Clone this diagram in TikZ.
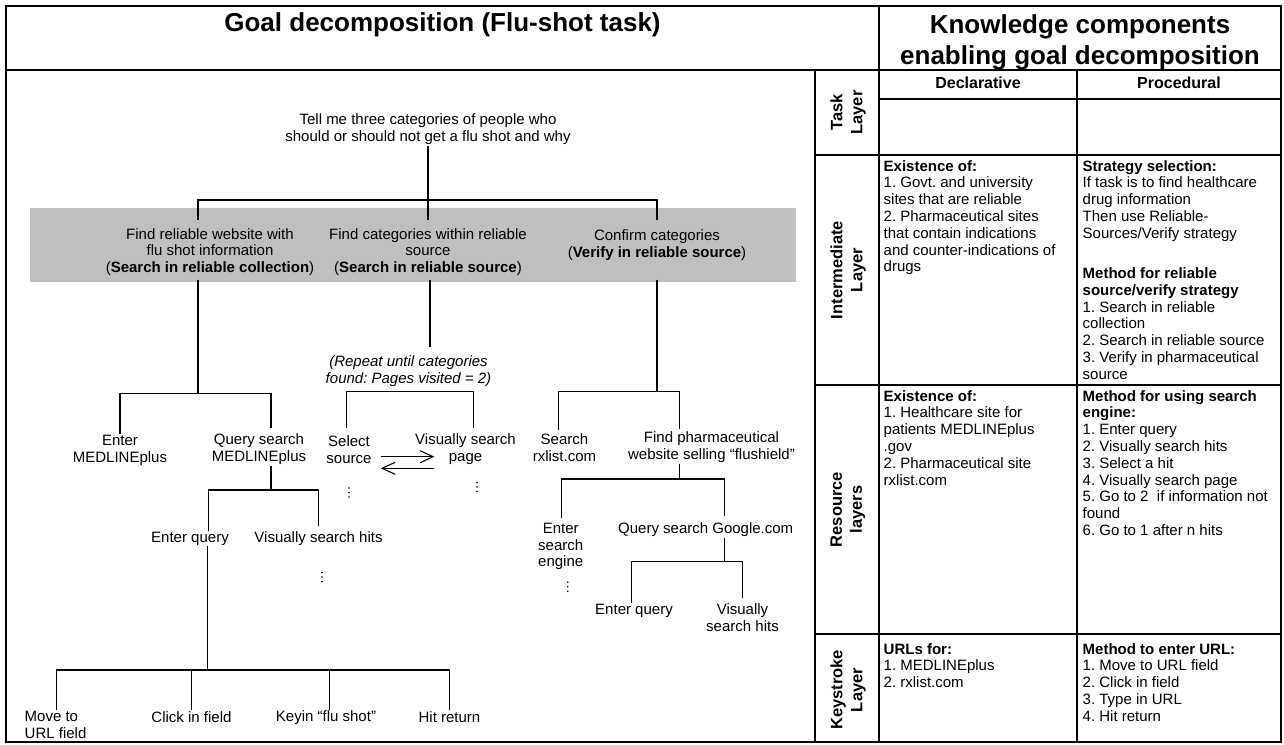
\documentclass[tikz,border=0pt]{standalone}
\usepackage{fontspec}
\setmainfont{Liberation Sans}
\usetikzlibrary{arrows.meta}
\definecolor{band}{RGB}{191,191,191}
\frenchspacing
\begin{document}
\begin{tikzpicture}[x=1pt,y=-1pt,
  conn/.style={line width=1.5pt},
  grid/.style={line width=1.2pt},
  txt/.style={font=\fontsize{15}{16.8}\selectfont, align=center, inner sep=1pt},
  itxt/.style={font=\itshape\fontsize{15}{16.8}\selectfont, align=center, inner sep=1pt},
  cell/.style={font=\fontsize{15}{16.8}\selectfont, align=left, inner sep=0pt, anchor=north west},
  lab/.style={rotate=90, align=center, font=\bfseries\fontsize{16.5}{20}\selectfont, inner sep=0pt},
  head/.style={font=\bfseries\fontsize{26}{31}\selectfont, align=center, inner sep=0pt},
  colh/.style={font=\bfseries\fontsize{16}{19}\selectfont, inner sep=0pt},
  arr/.style={line width=1.1pt, -{Straight Barb[length=13pt,width=12pt]}}]
\useasboundingbox (0,0) rectangle (1284,744);
\fill[band] (30,208) rectangle (796,282);

% ---------- table frame ----------
\draw[grid] (6,6) rectangle (1281,742);
\draw[grid] (6,70) -- (1281,70);
\draw[grid] (879,6) -- (879,742);
\draw[grid] (815,70) -- (815,742);
\draw[grid] (1077,70) -- (1077,742);
\draw[grid] (879,99) -- (1281,99);
\draw[grid] (815,155) -- (1281,155);
\draw[grid] (815,385) -- (1281,385);
\draw[grid] (815,634) -- (1281,634);

% ---------- headers ----------
\node[head] (h1) at (442.5,25) {Goal decomposition (Flu-shot task)};
\node[head] (h2) at (1080,42) {Knowledge components\\enabling goal decomposition};
\node[colh] (hd) at (978,83) {Declarative};
\node[colh] (hp) at (1179,83) {Procedural};

\node[lab] (lt) at (848,112.5) {Task\\Layer};
\node[lab] (li) at (848,270) {Intermediate\\Layer};
\node[lab] (lr) at (848,509.5) {Resource\\layers};
\node[lab] (lk) at (848,690) {Keystroke\\Layer};

\node[cell] (idecl) at (883.5,160) {\textbf{Existence of:}\\1. Govt. and university\\sites that are reliable\\2. Pharmaceutical sites\\that contain indications\\and counter-indications of\\drugs};
\node[cell] (iproc) at (1082.5,160) {\textbf{Strategy selection:}\\If task is to find healthcare\\drug information\\Then use Reliable-\\Sources/Verify strategy\\[23.5pt]\textbf{Method for reliable}\\\textbf{source/verify strategy}\\1. Search in reliable\\collection\\2. Search in reliable source\\3. Verify in pharmaceutical\\source};
\node[cell] (rdecl) at (883.5,390) {\textbf{Existence of:}\\1. Healthcare site for\\patients MEDLINEplus\\.gov\\2. Pharmaceutical site\\rxlist.com};
\node[cell] (rproc) at (1082.5,390) {\textbf{Method for using search}\\\textbf{engine:}\\1. Enter query\\2. Visually search hits\\3. Select a hit\\4. Visually search page\\5. Go to 2\ \ if information not\\found\\6. Go to 1 after n hits};
\node[cell] (kdecl) at (883.5,643) {\textbf{URLs for:}\\1. MEDLINEplus\\2. rxlist.com};
\node[cell] (kproc) at (1082.5,643) {\textbf{Method to enter URL:}\\1. Move to URL field\\2. Click in field\\3. Type in URL\\4. Hit return};

% ---------- tree nodes ----------
\node[txt] (root) at (428,129.5) {Tell me three categories of people who\\should or should not get a flu shot and why};
\node[txt] (g1) at (210,252) {Find reliable website with\\flu shot information\\(\textbf{Search in reliable collection})};
\node[txt] (g2) at (428,252) {Find categories within reliable\\source\\(\textbf{Search in reliable source})};
\node[txt] (g3) at (657,245) {Confirm categories\\(\textbf{Verify in reliable source})};

\node[txt] (a1) at (120,450.5) {Enter\\MEDLINEplus};
\node[txt] (a2) at (259,449.5) {Query search\\MEDLINEplus};
\node[txt] (b1) at (190,538.5) {Enter query};
\node[txt] (b2) at (318.5,539) {Visually search hits};
\node[txt, align=left, anchor=north west] (c1) at (23.5,710) {Move to\\URL field};
\node[txt] (c2) at (191.5,717) {Click in field};
\node[txt] (c3) at (326,718) {Keyin “flu shot”};
\node[txt] (c4) at (449.5,717) {Hit return};

\node[itxt] (rep) at (408.5,371) {(Repeat until categories\\found: Pages visited = 2)};
\node[txt] (sel) at (349,449.5) {Select\\source};
\node[txt] (vis) at (465.5,449.5) {Visually search\\page};

\node[txt] (d1) at (564.5,447.5) {Search\\rxlist.com};
\node[txt] (d2) at (711.5,447.5) {Find pharmaceutical\\website selling “flushield”};
\node[txt] (e1) at (560.7,546.5) {Enter\\search\\engine};
\node[txt] (e2) at (705.7,530) {Query search Google.com};
\node[txt] (f1) at (634,610.5) {Enter query};
\node[txt] (f2) at (742.5,617.5) {Visually\\search hits};

% ---------- continuation dots ----------
\coordinate (dA) at (322,577);
\coordinate (dB) at (349,492.5);
\coordinate (dC) at (477,487);
\coordinate (dD) at (567.7,586.7);
\foreach \d in {dA,dB,dC,dD}
  \foreach \k in {-4.5,0,4.5}
    \fill ([yshift=\k pt]\d) circle (0.85pt);

% ---------- bar levels ----------
\coordinate (y200) at (0,200);
\coordinate (yA) at (0,393.3);
\coordinate (yB) at (0,490);
\coordinate (yC) at (0,670);
\coordinate (yD) at (0,391.7);
\coordinate (yE) at (0,391.7);
\coordinate (yF) at (0,479);
\coordinate (yG) at (0,561.7);

% ---------- connection points ----------
\coordinate (g1t) at ([xshift=-12pt,yshift=7.5pt]g1.north);
\coordinate (g2t) at ([yshift=7.5pt]g2.north);
\coordinate (g3t) at ([yshift=8pt]g3.north);
\coordinate (g1b) at ([xshift=-12pt,yshift=-3pt]g1.south);
\coordinate (g2b) at ([xshift=2pt,yshift=-3pt]g2.south);
\coordinate (g3b) at ([yshift=-18pt]g3.south);
\coordinate (a2t) at ([xshift=12pt,yshift=5pt]a2.north);
\coordinate (a2b) at ([xshift=12pt]a2.south);
\coordinate (b1t) at ([xshift=18.6pt]b1.north);
\coordinate (b2t) at ([yshift=5pt]b2.north);
\coordinate (b1b) at ([xshift=17.6pt]b1.south);
\coordinate (c1t) at ([xshift=1pt]c1.north);
\coordinate (c3t) at ([xshift=3.4pt]c3.north);
\coordinate (rept) at ([xshift=21.5pt,yshift=7pt]rep.north);
\coordinate (selt) at ([xshift=-2.7pt,yshift=6pt]sel.north);
\coordinate (vist) at ([xshift=7.8pt,yshift=5pt]vis.north);
\coordinate (d1t) at ([xshift=-6.2pt,yshift=2pt]d1.north);
\coordinate (d2t) at ([xshift=-32.2pt,yshift=2pt]d2.north);
\coordinate (d2b) at ([xshift=-32.2pt]d2.south);
\coordinate (e1t) at ([xshift=1pt,yshift=4pt]e1.north);
\coordinate (e2t) at ([xshift=18.6pt,yshift=6pt]e2.north);
\coordinate (e2b) at ([xshift=18.6pt]e2.south);
\coordinate (f1t) at ([xshift=-2.3pt]f1.north);
\coordinate (f2t) at ([yshift=4pt]f2.north);

% ---------- connectors ----------
\draw[conn] (root.south) -- (g2t);
\draw[conn] (g1t) |- (root.south |- y200) -| (g3t);

\draw[conn] (g1b) -- (g1b |- yA);
\draw[conn] (a1.north) |- (g1b |- yA) -| (a2t);

\draw[conn] (a2b) -- (a2b |- yB);
\draw[conn] (b1t) |- (b2t |- yB) -- (b2t);

\draw[conn] (b1b) -- (b1b |- yC);
\draw[conn] (c1t) |- (c4.north |- yC) -- (c4.north);
\draw[conn] (c2.north) -- (c2.north |- yC);
\draw[conn] (c3t) -- (c3t |- yC);

\draw[conn] (g2b) -- (rept);
\draw[conn] (selt) |- (vist |- yD) -- (vist);
\draw[arr] ([xshift=31.8pt,yshift=-7.2pt]sel.center) -- ([xshift=-31.1pt,yshift=-7.2pt]vis.center);
\draw[arr] ([xshift=-31.1pt,yshift=-18.8pt]vis.center) -- ([xshift=31.8pt,yshift=-18.8pt]sel.center);

\draw[conn] (g3b) -- (g3b |- yE);
\draw[conn] (d1t) |- (d2t |- yE) -- (d2t);

\draw[conn] (d2b) -- (d2b |- yF);
\draw[conn] (e1t) |- (e2t |- yF) -- (e2t);

\draw[conn] (e2b) -- (e2b |- yG);
\draw[conn] (f1t) |- (f2t |- yG) -- (f2t);
\end{tikzpicture}
\end{document}
